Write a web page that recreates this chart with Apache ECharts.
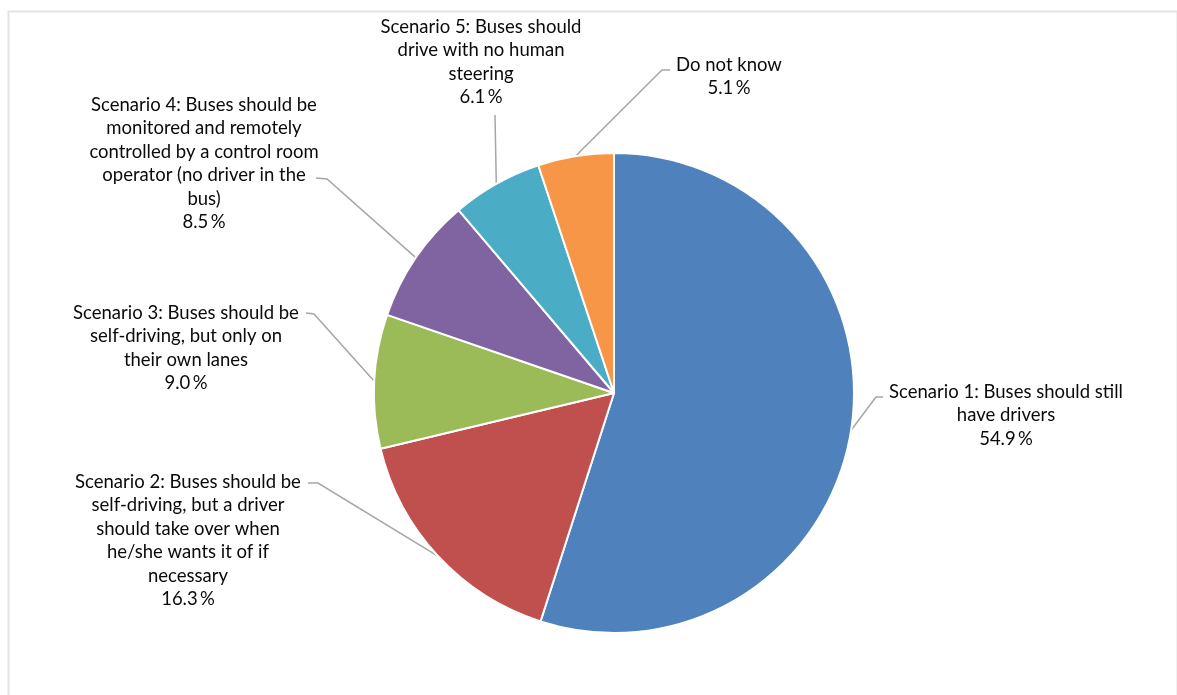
<!DOCTYPE html>
<html>
<head>
<meta charset="utf-8">
<script src="https://cdn.jsdelivr.net/npm/echarts@6/dist/echarts.min.js"></script>
<style>
html, body { margin: 0; padding: 0; background: #fff; }
#chart { width: 1177px; height: 695px; }
</style>
</head>
<body>
<div id="chart"></div>
<script>
const categories = [
    'Scenario 1: Buses should still have drivers',
    'Scenario 2: Buses should be self-driving, but a driver should take over when he/she wants it of if necessary',
    'Scenario 3: Buses should be self-driving, but only on their own lanes',
    'Scenario 4: Buses should be monitored and remotely controlled by a control room operator (no driver in the bus)',
    'Scenario 5: Buses should drive with no human steering',
    'Do not know'
];
const shares = [54.9, 16.3, 9.0, 8.5, 6.1, 5.1];
const sliceColors = ['#4F81BD', '#C0504D', '#9BBB59', '#8064A2', '#4BACC6', '#F79646'];

// wrapped the same way as the original labels
const labelLines = [
    ['Scenario 1: Buses should still', 'have drivers'],
    ['Scenario 2: Buses should be', 'self-driving, but a driver', 'should take over when', 'he/she wants it of if', 'necessary'],
    ['Scenario 3: Buses should be', 'self-driving, but only on', 'their own lanes'],
    ['Scenario 4: Buses should be', 'monitored and remotely', 'controlled by a control room', 'operator (no driver in the', 'bus)'],
    ['Scenario 5: Buses should', 'drive with no human', 'steering'],
    ['Do not know']
];

// label centre x / top y, and where the leader line bends and ends
const labelSpots = [
    { x: 1006, y: 380, bend: [876, 397], end: [883, 397] },
    { x: 188, y: 470, bend: [318, 483], end: [308, 483] },
    { x: 186, y: 301, bend: [314, 314], end: [306, 313] },
    { x: 204, y: 93, bend: [327, 179], end: [316, 178] },
    { x: 481, y: 15, bend: null, end: [495, 115] },
    { x: 729, y: 53, bend: [662, 70], end: [670, 70] }
];

const chart = echarts.init(document.getElementById('chart'));

const option = {
    animation: false,
    backgroundColor: '#ffffff',
    graphic: [
        {
            type: 'rect',
            left: 6,
            top: 9,
            shape: { width: 1169, height: 720 },
            style: { fill: 'none', stroke: '#e3e3e3', lineWidth: 2 },
            silent: true
        }
    ],
    series: [
        {
            type: 'pie',
            center: [614, 393],
            radius: 240,
            startAngle: 90,
            clockwise: true,
            emphasis: { disabled: true },
            data: categories.map((name, i) => ({
                name: name,
                value: shares[i],
                itemStyle: { color: sliceColors[i] }
            })),
            itemStyle: {
                borderColor: '#ffffff',
                borderWidth: 2
            },
            label: {
                show: true,
                position: 'outside',
                color: '#0a0a0a',
                fontFamily: 'Lato',
                fontSize: 18.5,
                lineHeight: 23.5,
                align: 'center',
                formatter(params) {
                    const lines = labelLines[params.dataIndex].slice();
                    lines.push(params.value.toFixed(1) + '\u2009%');
                    return lines.join('\n');
                }
            },
            labelLine: {
                show: true,
                lineStyle: { color: '#a6a6a6', width: 1.5 }
            },
            labelLayout(params) {
                const spot = labelSpots[params.dataIndex];
                const pts = [];
                if (params.labelLinePoints) {
                    pts.push(params.labelLinePoints[0]);
                }
                if (spot.bend) {
                    pts.push(spot.bend);
                }
                pts.push(spot.end);
                return {
                    x: spot.x,
                    y: spot.y,
                    align: 'center',
                    verticalAlign: 'top',
                    labelLinePoints: pts
                };
            }
        }
    ]
};

chart.setOption(option);
</script>
</body>
</html>
